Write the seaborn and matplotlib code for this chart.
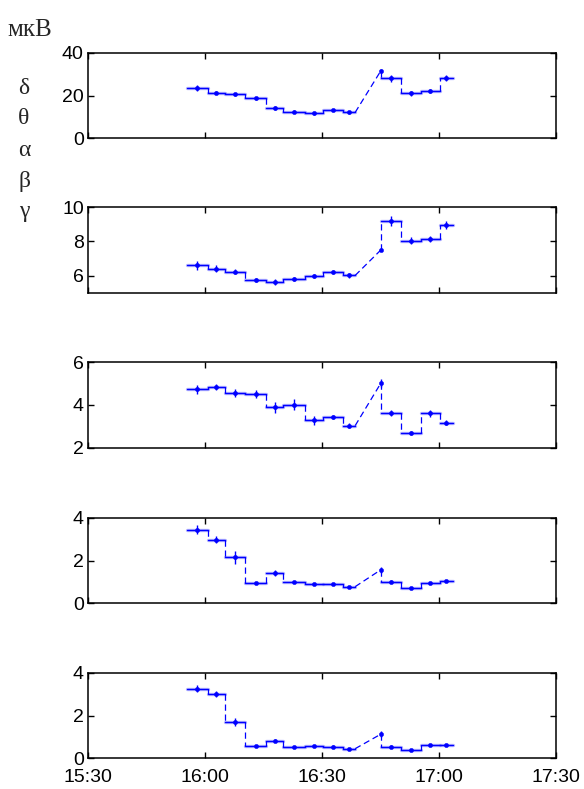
import numpy as np
import pandas as pd
import matplotlib
matplotlib.use('Agg')
import matplotlib.pyplot as plt
import seaborn as sns

# время в минутах от 15:30
edges_a = [25.3, 30.7, 35.1, 40.3, 45.6, 50.1, 55.6, 60.3, 65.5, 68.5]
gap_time = 75.1
edges_b = [75.1, 80.3, 85.3, 90.3, 93.5]

bands = ['δ', 'θ', 'α', 'β', 'γ']
delta = [23.6, 21.3, 20.5, 18.7, 14.0, 12.4, 11.7, 13.2, 12.1, 31.6, 28.0, 21.0, 22.2, 28.3]
theta = [6.60, 6.40, 6.23, 5.74, 5.64, 5.80, 5.96, 6.23, 6.01, 7.50, 9.21, 8.04, 8.14, 8.96]
alpha = [4.72, 4.83, 4.55, 4.50, 3.89, 4.01, 3.28, 3.42, 3.03, 5.02, 3.63, 2.68, 3.60, 3.17]
beta = [3.45, 2.98, 2.16, 0.96, 1.41, 1.00, 0.91, 0.91, 0.78, 1.57, 1.02, 0.73, 0.96, 1.05]
gamma = [3.26, 3.01, 1.69, 0.59, 0.83, 0.52, 0.56, 0.55, 0.45, 1.13, 0.55, 0.40, 0.63, 0.63]

delta_err = [1.5, 0.8, 0.8, 0.8, 1.0, 0.6, 0.6, 0.6, 0.6, 0.8, 1.5, 1.0, 0.8, 1.5]
theta_err = [0.25, 0.2, 0.15, 0.12, 0.18, 0.12, 0.12, 0.12, 0.15, 0.08, 0.3, 0.2, 0.2, 0.25]
alpha_err = [0.2, 0.15, 0.2, 0.2, 0.25, 0.25, 0.2, 0.1, 0.1, 0.2, 0.15, 0.08, 0.15, 0.12]
beta_err = [0.2, 0.15, 0.3, 0.05, 0.15, 0.05, 0.05, 0.05, 0.05, 0.15, 0.05, 0.05, 0.05, 0.05]
gamma_err = [0.15, 0.15, 0.2, 0.05, 0.08, 0.05, 0.05, 0.05, 0.05, 0.15, 0.05, 0.05, 0.05, 0.05]

series = [delta, theta, alpha, beta, gamma]
errors = [delta_err, theta_err, alpha_err, beta_err, gamma_err]
ylims = [(0, 40), (5, 10), (2, 6), (0, 4), (0, 4)]
yticks = [[0, 20, 40], [6, 8, 10], [2, 4, 6], [0, 2, 4], [0, 2, 4]]
xticks = [0, 30, 60, 90, 120]
xlabels = ['15:30', '16:00', '16:30', '17:00', '17:30']

sns.set_style('ticks')
plt.rcParams['font.family'] = ['Liberation Sans', 'DejaVu Sans']

blue = '#0000ff'
fig = plt.figure(figsize=(5.84, 7.89), dpi=100)
bottoms = [0.8247, 0.629, 0.4326, 0.2353, 0.0389]

for k, vals in enumerate(series):
    ax = fig.add_axes([0.1507, bottoms[k], 0.8014, 0.1085])
    err = errors[k]
    va = vals[:9]
    vb = vals[10:]
    # горизонтальные ступени
    rows = []
    for i, v in enumerate(va):
        rows += [(edges_a[i], v, i), (edges_a[i + 1], v, i)]
    for i, v in enumerate(vb):
        rows += [(edges_b[i], v, 20 + i), (edges_b[i + 1], v, 20 + i)]
    steps = pd.DataFrame(rows, columns=['t', 'v', 'seg'])
    sns.lineplot(data=steps, x='t', y='v', units='seg', estimator=None,
                 color='#7a7aff', lw=2.4, alpha=0.55, ax=ax)
    sns.lineplot(data=steps, x='t', y='v', units='seg', estimator=None,
                 color=blue, lw=1.0, ax=ax)
    # пунктирные переходы
    ls = dict(color=blue, lw=0.9, dashes=(5, 3))
    for i in range(len(va) - 1):
        ax.plot([edges_a[i + 1]] * 2, [va[i], va[i + 1]], **ls)
    for i in range(len(vb) - 1):
        ax.plot([edges_b[i + 1]] * 2, [vb[i], vb[i + 1]], **ls)
    ax.plot([edges_a[-1], gap_time], [va[-1], vals[9]], **ls)
    ax.plot([gap_time, gap_time], [vals[9], vb[0]], **ls)
    # центры и погрешности
    centers = [(edges_a[i] + edges_a[i + 1]) / 2 for i in range(9)] + [gap_time] + \
              [(edges_b[i] + edges_b[i + 1]) / 2 for i in range(4)]
    pts = pd.DataFrame({'t': centers, 'v': vals})
    ax.errorbar(centers, vals, yerr=err, fmt='none', ecolor=blue, elinewidth=1.0, capsize=0)
    sns.scatterplot(data=pts, x='t', y='v', color=blue, s=10, edgecolor=blue, ax=ax, zorder=5)

    ax.set_xlim(0, 120)
    ax.set_ylim(*ylims[k])
    ax.set_yticks(yticks[k])
    ax.set_xticks(xticks)
    if k == 4:
        ax.set_xticklabels(xlabels)
    else:
        ax.set_xticklabels([])
    ax.set_xlabel('')
    ax.set_ylabel('')
    ax.tick_params(direction='in', top=True, right=True, length=4, width=1,
                   labelsize=14, colors='black', pad=3)
    ax.tick_params(axis='x', pad=8)
    for s in ax.spines.values():
        s.set_linewidth(1.1)
        s.set_color('black')

fig.text(0.012, 1 - 30 / 789, 'мкВ', family=['Liberation Serif', 'DejaVu Serif'],
         fontsize=18, va='center', ha='left')
for j, b in enumerate(bands):
    fig.text(24 / 584, 1 - (88 + 31 * j) / 789, b, family=['Liberation Serif', 'DejaVu Serif'],
             fontsize=17, va='center', ha='center')

fig.savefig('out.png', dpi=100)
